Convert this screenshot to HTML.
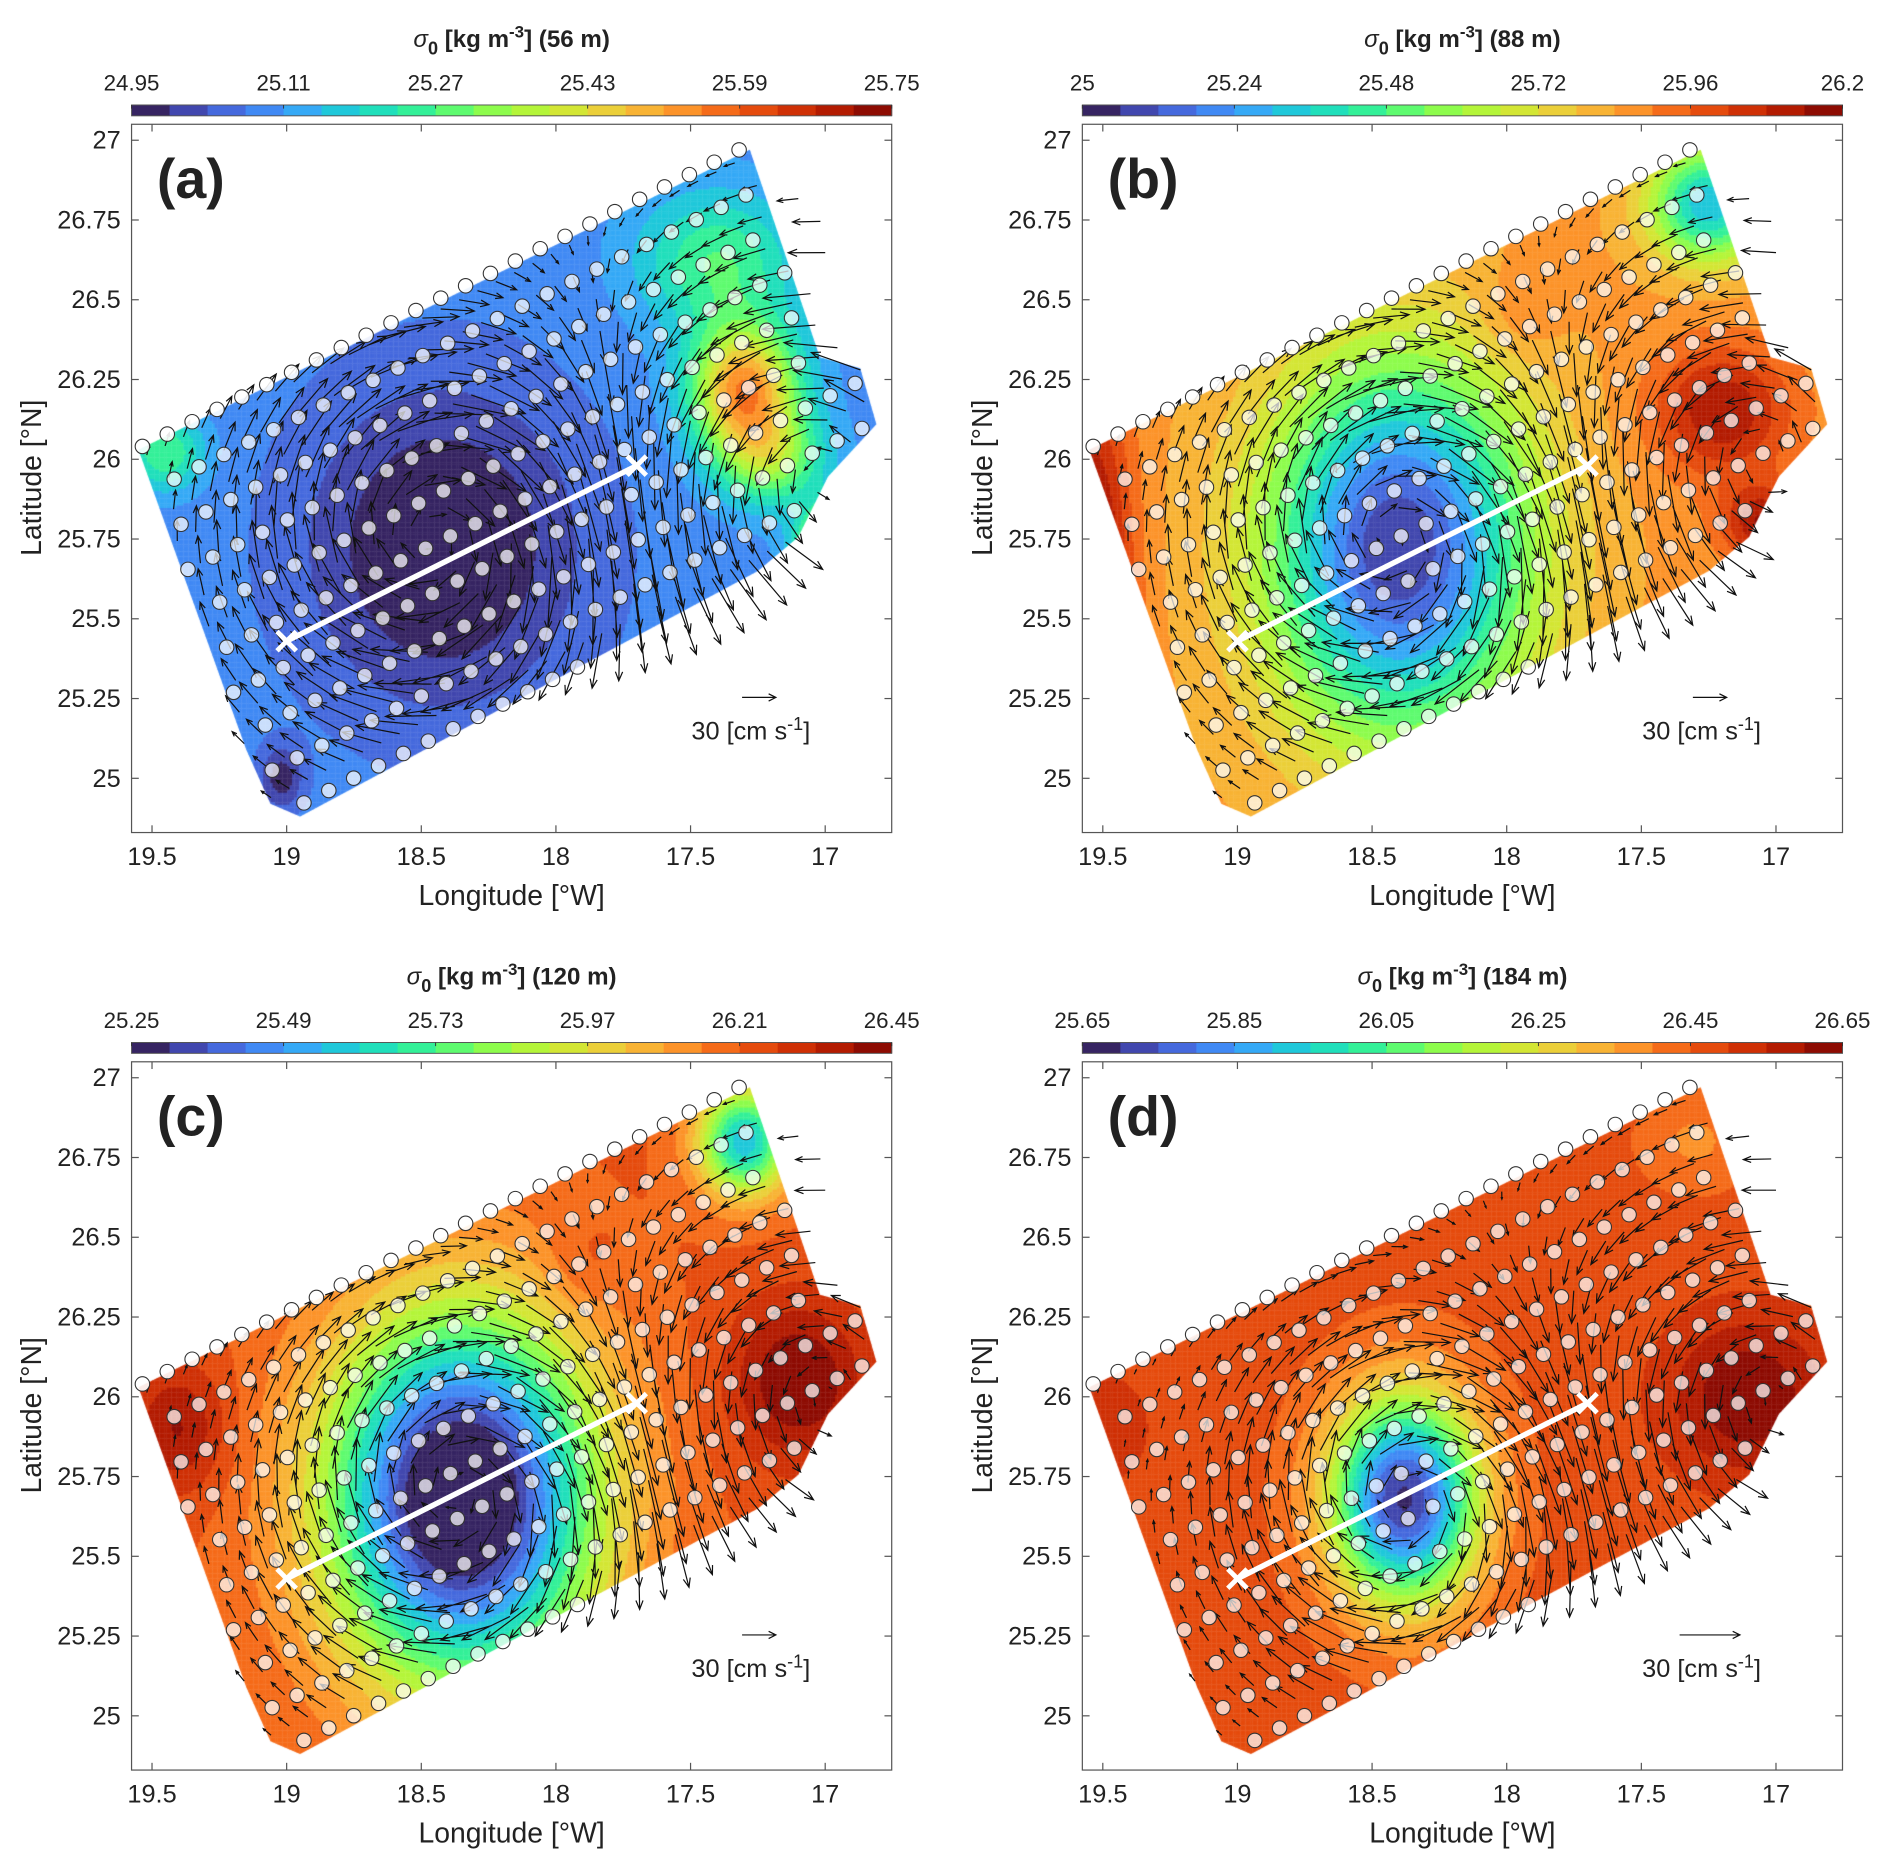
<!DOCTYPE html>
<html><head><meta charset="utf-8">
<style>
html,body{margin:0;padding:0;background:#fff;}
#wrap{position:relative;width:1892px;height:1869px;overflow:hidden;}
#cv{position:absolute;left:0;top:0;}
#sv{position:absolute;left:0;top:0;}
text{font-family:"Liberation Sans",Arial,sans-serif;fill:#222;}
</style></head>
<body>
<div id="wrap">
<canvas id="cv" width="1892" height="1869"></canvas>
<svg id="sv" width="1892" height="1869" viewBox="0 0 1568 1549" xmlns="http://www.w3.org/2000/svg"></svg>
</div>
<script>
// ---- data ----
const panelLetters = ["(a)","(b)","(c)","(d)"];
const panelDepths = ["56 m","88 m","120 m","184 m"];
const cbarMin = [24.95, 25.0, 25.25, 25.65];
const cbarMax = [25.75, 26.2, 26.45, 26.65];
const cbarTickLabels = [
  ["24.95","25.11","25.27","25.43","25.59","25.75"],
  ["25","25.24","25.48","25.72","25.96","26.2"],
  ["25.25","25.49","25.73","25.97","26.21","26.45"],
  ["25.65","25.85","26.05","26.25","26.45","26.65"]];
const xTicks = [19.5,19,18.5,18,17.5,17];
const xTickLabels = ["19.5","19","18.5","18","17.5","17"];
const yTicks = [27,26.75,26.5,26.25,26,25.75,25.5,25.25,25];
const yTickLabels = ["27","26.75","26.5","26.25","26","25.75","25.5","25.25","25"];
// domain polygon (lon W, lat N)
const domainLon = [19.55,17.28,17.02,16.87,16.81,16.99,17.1,17.25,18.95,19.06,19.15];
const domainLat = [26.03,26.97,26.32,26.285,26.11,25.945,25.756,25.65,24.88,24.92,25.09];
// density field base + blobs [lon, lat, amp, sx, sy] per panel
const fieldBase = [25.09, 25.86, 26.22, 26.47];
const fieldBlobs = [
  [[18.42,25.72,-0.16,0.5,0.5],[17.3,26.22,0.45,0.2,0.2],[17.4,26.62,0.18,0.3,0.22],[16.95,25.7,0.65,0.13,0.13],[19.45,26.02,0.18,0.15,0.12],[19.02,25.0,-0.12,0.08,0.1],[17.2,26.0,0.22,0.2,0.15]],
  [[18.4,25.72,-0.8,0.48,0.58],[17.2,26.15,0.28,0.25,0.2],[19.55,25.6,0.38,0.15,0.6],[17.25,26.8,-0.55,0.22,0.18],[17.95,26.45,0.08,0.15,0.15],[17.05,25.8,0.28,0.15,0.12]],
  [[18.35,25.68,-1.1,0.48,0.56],[17.3,26.8,-0.65,0.17,0.17],[17.1,26.05,0.24,0.25,0.25],[19.4,25.9,0.18,0.18,0.2],[17.9,26.4,0.06,0.15,0.15]],
  [[18.38,25.68,-0.78,0.27,0.32],[17.1,26.0,0.18,0.3,0.25],[19.5,25.9,0.06,0.2,0.2],[17.3,26.8,-0.08,0.2,0.15]]];
// eddies [lon, lat, radius(deg), speed(cm/s), sign(+1 anticyclone clockwise)]
const eddies = [
  [[18.45,25.75,0.4,52,1],[17.0,25.95,0.42,48,-1]],
  [[18.4,25.75,0.4,52,1],[17.05,26.0,0.42,40,-1]],
  [[18.35,25.7,0.4,48,1],[17.0,26.0,0.45,32,-1]],
  [[18.35,25.67,0.36,27,1],[17.0,26.0,0.45,20,-1]]];
const arrowScale = [0.93,0.93,0.93,1.67]; // px per cm/s
const refArrowLen = [28,28,28,50];
const sectionLon = [19.0,17.7];
const sectionLat = [25.43,25.98];

// ---- layout ----
const offs=[[0,0],[788,0],[0,777],[788,777]];
const PX0=109,PY0=103,PW=630,PH=587,L0=19.576,L1=16.753,LT=27.05,LB=24.83;
function X(lon){return PX0+(L0-lon)/(L0-L1)*PW;}
function Y(lat){return PY0+(LT-lat)/(LT-LB)*PH;}
const turbo=[[48,18,59],[65,69,171],[70,117,237],[57,162,252],[27,207,212],[36,236,166],[97,252,108],[164,252,59],[209,232,52],[243,198,58],[254,155,45],[243,99,21],[217,56,6],[177,25,1],[122,4,3]];
function cmap(t){t=Math.max(0,Math.min(1,t));const s=t*(turbo.length-1);const i=Math.min(turbo.length-2,Math.floor(s));const f=s-i;const a=turbo[i],b=turbo[i+1];return [0,1,2].map(k=>Math.round(a[k]+(b[k]-a[k])*f));}
function rgb(c){return 'rgb('+c[0]+','+c[1]+','+c[2]+')';}
const NL=20;
function field(p,lon,lat){let f=fieldBase[p];for(const b of fieldBlobs[p]){const dx=(lon-b[0])/b[3],dy=(lat-b[1])/b[4];f+=b[2]*Math.exp(-(dx*dx+dy*dy));}return f;}
function vel(p,lon,lat){let u=0,v=0;for(const e of eddies[p]){const x=-(lon-e[0])*0.9,y=lat-e[1];const r=Math.sqrt(x*x+y*y)+1e-9;const q=r/e[2];const g=e[3]*q*Math.exp(0.5*(1-q*q));u+=e[4]*g*y/r;v+=-e[4]*g*x/r;}return [u,v];}
function inPoly(px,py,poly){let c=false;for(let i=0,j=poly.length-1;i<poly.length;j=i++){const xi=poly[i][0],yi=poly[i][1],xj=poly[j][0],yj=poly[j][1];if(((yi>py)!=(yj>py))&&(px<(xj-xi)*(py-yi)/(yj-yi)+xi))c=!c;}return c;}
const polyPx=domainLon.map((l,i)=>[X(l),Y(domainLat[i])]);

// ---- canvas fields ----
const cv=document.getElementById('cv');const ctx=cv.getContext('2d');
ctx.setTransform(1892/1568,0,0,1869/1549,0,0);
for(let p=0;p<4;p++){const [ox,oy]=offs[p];ctx.save();ctx.beginPath();polyPx.forEach((q,i)=>{i?ctx.lineTo(q[0]+ox,q[1]+oy):ctx.moveTo(q[0]+ox,q[1]+oy);});ctx.closePath();ctx.clip();
 for(let x=110;x<740;x+=2){for(let y=115;y<690;y+=2){const lon=L0-(x+1-PX0)/PW*(L0-L1),lat=LT-(y+1-PY0)/PH*(LT-LB);const t=(field(p,lon,lat)-cbarMin[p])/(cbarMax[p]-cbarMin[p]);let k=Math.floor(t*NL);k=Math.max(0,Math.min(NL-1,k));ctx.fillStyle=rgb(cmap((k+0.5)/NL));ctx.fillRect(x+ox,y+oy,2.3,2.3);}}
 ctx.restore();}

// ---- svg ----
const NS='http://www.w3.org/2000/svg';const svg=document.getElementById('sv');
function el(tag,attrs,parent){const e=document.createElementNS(NS,tag);for(const k in attrs)e.setAttribute(k,attrs[k]);(parent||svg).appendChild(e);return e;}
const ax=499/557,ay=-248/557,nx=0.445,ny=0.896;
const stations=[];
for(let r=0;r<10;r++){for(let s=-2;s<30;s++){const d=r*36,a=s*23+(r%2)*11.5;const x=118+ax*a+nx*d,y=370+ay*a+ny*d;if(r==0){if(a>=0&&a<=560)stations.push([x,y,1]);}else if(inPoly(x,y,polyPx))stations.push([x,y,0]);}}
const arrowPts=[];
for(let r=0;r<14;r++){for(let s=-2;s<45;s++){const d=r*25+8,a=s*17+(r%2)*8;const x=118+ax*a+nx*d,y=370+ay*a+ny*d;if(inPoly(x,y,polyPx)||(x>650&&x<700&&y>150&&y<330&&(s%2==0)))arrowPts.push([x,y]);}}
for(let p=0;p<4;p++){const [ox,oy]=offs[p];
 const g=el('g',{transform:'translate('+ox+','+oy+')'});
 
 const cb=el('g',{},g);
 for(let i=0;i<NL;i++){const r=el('rect',{x:PX0+i*PW/NL,y:87,width:PW/NL+0.4,height:9,fill:rgb(cmap((i+0.5)/NL))},cb);}
 el('rect',{x:PX0,y:87,width:PW,height:9,fill:'none',stroke:'#555','stroke-width':0.8},cb);
 cbarTickLabels[p].forEach((lab,i)=>{const x=PX0+i*PW/5;el('line',{x1:x,y1:87,x2:x,y2:90,stroke:'#333','stroke-width':0.8},cb);const t=el('text',{x:x,y:75,'font-size':18.5,'text-anchor':'middle'},cb);t.textContent=lab;});
 const tt=el('text',{x:424,y:39,'font-size':20,'font-weight':'bold','text-anchor':'middle'},g);
 tt.innerHTML='<tspan font-style="italic" font-weight="normal">σ</tspan><tspan dy="6" font-size="15">0</tspan><tspan dy="-6"> [kg m</tspan><tspan dy="-8" font-size="14">-3</tspan><tspan dy="8">] ('+panelDepths[p]+')</tspan>';
 const bx=el('rect',{x:PX0,y:PY0,width:PW,height:PH,fill:'none',stroke:'#555','stroke-width':1},g);
 xTicks.forEach((v,i)=>{const x=X(v);el('line',{x1:x,y1:PY0+PH,x2:x,y2:PY0+PH-6,stroke:'#555'},g);el('line',{x1:x,y1:PY0,x2:x,y2:PY0+6,stroke:'#555'},g);const t=el('text',{x:x,y:PY0+PH+27,'font-size':21,'text-anchor':'middle'},g);t.textContent=xTickLabels[i];});
 yTicks.forEach((v,i)=>{const y=Y(v);el('line',{x1:PX0,y1:y,x2:PX0+6,y2:y,stroke:'#555'},g);el('line',{x1:PX0+PW,y1:y,x2:PX0+PW-6,y2:y,stroke:'#555'},g);const t=el('text',{x:PX0-9,y:y+7,'font-size':21,'text-anchor':'end'},g);t.textContent=yTickLabels[i];});
 const xl=el('text',{x:424,y:750,'font-size':23.5,'text-anchor':'middle'},g);xl.textContent='Longitude [°W]';
 const yl=el('text',{x:0,y:0,'font-size':23.5,'text-anchor':'middle',transform:'translate(34,396) rotate(-90)'},g);yl.textContent='Latitude [°N]';
 const pl=el('text',{x:130,y:164,'font-size':46,'font-weight':'bold'},g);pl.textContent=panelLetters[p];
 let dstr='';const sc=arrowScale[p];
 for(const q of arrowPts){const lon=L0-(q[0]-PX0)/PW*(L0-L1),lat=LT-(q[1]-PY0)/PH*(LT-LB);const [u,v]=vel(p,lon,lat);const dx=u*sc,dy=-v*sc;const L=Math.hypot(dx,dy);if(L<1.5)continue;const ex=q[0]+dx,ey=q[1]+dy;const ux=dx/L,uy=dy/L;const h=Math.min(8,L*0.3);
  dstr+='M'+q[0].toFixed(1)+' '+q[1].toFixed(1)+'L'+ex.toFixed(1)+' '+ey.toFixed(1);
  const c=Math.cos(0.38),s=Math.sin(0.38);
  dstr+='M'+(ex-h*(ux*c-uy*s)).toFixed(1)+' '+(ey-h*(uy*c+ux*s)).toFixed(1)+'L'+ex.toFixed(1)+' '+ey.toFixed(1)+'L'+(ex-h*(ux*c+uy*s)).toFixed(1)+' '+(ey-h*(uy*c-ux*s)).toFixed(1);}
 const ar=el('path',{d:dstr,stroke:'#111','stroke-width':1,fill:'none'},g);
 for(const s of stations){const c=el('circle',{cx:s[0],cy:s[1],r:6,fill:s[2]?'rgba(255,255,255,0.9)':'rgba(255,255,255,0.72)',stroke:'#333','stroke-width':0.9},g);}
 const x1=X(sectionLon[0]),y1=Y(sectionLat[0]),x2=X(sectionLon[1]),y2=Y(sectionLat[1]);
 const sl=el('line',{x1:x1,y1:y1,x2:x2,y2:y2,stroke:'#fff','stroke-width':4.5},g);
 [[x1,y1],[x2,y2]].forEach(q=>{const m=el('path',{d:'M'+(q[0]-8)+' '+(q[1]-8)+'L'+(q[0]+8)+' '+(q[1]+8)+'M'+(q[0]-8)+' '+(q[1]+8)+'L'+(q[0]+8)+' '+(q[1]-8),stroke:'#fff','stroke-width':4},g);});
 const rx=(p==3?604:615),ry=578,rl=refArrowLen[p];
 const ra=el('path',{d:'M'+rx+' '+ry+'L'+(rx+rl)+' '+ry+'M'+(rx+rl-6)+' '+(ry-3)+'L'+(rx+rl)+' '+ry+'L'+(rx+rl-6)+' '+(ry+3),stroke:'#111','stroke-width':1,fill:'none'},g);
 const rt=el('text',{x:573,y:613,'font-size':21},g);
 rt.innerHTML='30 [cm s<tspan dy="-8" font-size="15">-1</tspan><tspan dy="8">]</tspan>';
}
</script>
</body></html>
